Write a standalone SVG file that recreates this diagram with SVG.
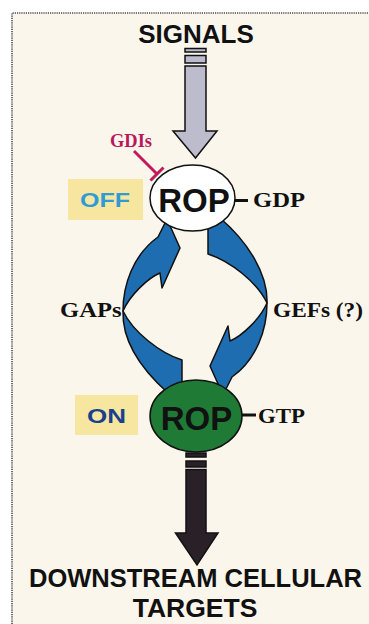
<svg xmlns="http://www.w3.org/2000/svg" width="369" height="624" viewBox="0 0 369 624">
<style>
.sans{font-family:"Liberation Sans",Arial,sans-serif;font-weight:bold}
.serif{font-family:"Liberation Serif","Times New Roman",serif;font-weight:bold}
.blue{fill:#1E6DB0;stroke:#111;stroke-width:1.5;stroke-linejoin:round}
.box{fill:#F7E6A0}
.dash{stroke:#111;stroke-width:3}
</style>
<rect x="0" y="0" width="369" height="624" fill="#ffffff"/>
<rect x="12" y="13" width="357" height="611" fill="#FBF6EC"/>
<path d="M12 624 V13 H369" fill="none" stroke="#4a4a4a" stroke-width="1.6" stroke-dasharray="1.2 1"/>

<g id="connectors">
  <g id="signal-arrow" fill="#BCBCCC" stroke="#111" stroke-width="1.5" stroke-linejoin="miter">
    <rect x="185" y="48.5" width="21" height="3.5"/>
    <rect x="185" y="55.5" width="21" height="7.5"/>
    <path d="M185 66 H206 V131 H217 L195.5 158 L173 131 H185 Z"/>
  </g>
  <g id="output-arrow" fill="#2A2128" stroke="#111" stroke-width="1.5">
    <rect x="186" y="453" width="20" height="4"/>
    <rect x="186" y="461" width="20" height="6"/>
    <path d="M186 469.5 H206 V533 H218 L197 565 L175.5 533 H186 Z"/>
  </g>
  <g id="gdi-inhibit" stroke="#C21A5B" stroke-width="3" fill="none">
    <line x1="134" y1="151" x2="157" y2="174"/>
    <line x1="150.5" y1="180.5" x2="163.5" y2="167.5"/>
  </g>
  <g id="cycle-arrows">
    <path class="blue" d="M123 311 C122 340 140 368 168 393 L182 397 L182 360 C160 353 133 332 123 311 Z"/>
    <path class="blue" d="M123 311 C123 285 133 255 158 237 L167 219 L180 248 L162 288 L160 273 C148 278 130 295 123 311 Z"/>
    <path class="blue" d="M267 303 C268 274 248 242 220 218 L208 214 L208 254 C230 261 257 282 267 303 Z"/>
    <path class="blue" d="M267 303 C267 329 257 359 232 377 L223 395 L210 366 L228 326 L230 341 C242 336 260 319 267 303 Z"/>
  </g>
</g>

<g id="signals">
  <text class="sans" x="196" y="43" font-size="26" text-anchor="middle" fill="#111">SIGNALS</text>
</g>
<g id="gdis">
  <text class="serif" x="110" y="146.5" font-size="19" fill="#B8185C" textLength="42" lengthAdjust="spacingAndGlyphs">GDIs</text>
</g>
<g id="off-label">
  <rect class="box" x="68" y="179" width="75" height="41"/>
  <text class="sans" x="80" y="206.5" font-size="20" fill="#2E9BD6" textLength="50" lengthAdjust="spacingAndGlyphs">OFF</text>
</g>
<g id="rop-off">
  <ellipse cx="192.5" cy="198" rx="42.5" ry="33" fill="#ffffff" stroke="#111" stroke-width="1.5"/>
  <text class="sans" x="194" y="212" font-size="33" text-anchor="middle" fill="#111">ROP</text>
</g>
<g id="gdp">
  <line class="dash" x1="235" y1="200.5" x2="248" y2="200.5"/>
  <text class="serif" x="253" y="206.5" font-size="22" fill="#111" textLength="52" lengthAdjust="spacingAndGlyphs">GDP</text>
</g>
<g id="gaps">
  <text class="serif" x="60" y="316.5" font-size="21" fill="#111" textLength="61.5" lengthAdjust="spacingAndGlyphs">GAPs</text>
</g>
<g id="gefs">
  <text class="serif" x="273" y="316.5" font-size="21" fill="#111" textLength="90" lengthAdjust="spacingAndGlyphs">GEFs (?)</text>
</g>
<g id="on-label">
  <rect class="box" x="75" y="395" width="63" height="40"/>
  <text class="sans" x="87" y="423.3" font-size="21" fill="#1A3F8C" textLength="39" lengthAdjust="spacingAndGlyphs">ON</text>
</g>
<g id="rop-on">
  <ellipse cx="196" cy="416" rx="46" ry="36" fill="#1F7A35" stroke="#111" stroke-width="1.5"/>
  <text class="sans" x="196.5" y="430" font-size="33" text-anchor="middle" fill="#111">ROP</text>
</g>
<g id="gtp">
  <line class="dash" x1="242" y1="415" x2="256" y2="415"/>
  <text class="serif" x="258" y="423.3" font-size="22" fill="#111" textLength="47" lengthAdjust="spacingAndGlyphs">GTP</text>
</g>
<g id="downstream">
  <text class="sans" x="29" y="587" font-size="26" fill="#111" textLength="333" lengthAdjust="spacingAndGlyphs">DOWNSTREAM CELLULAR</text>
  <text class="sans" x="195" y="616.5" font-size="26.5" text-anchor="middle" fill="#111">TARGETS</text>
</g>
</svg>
